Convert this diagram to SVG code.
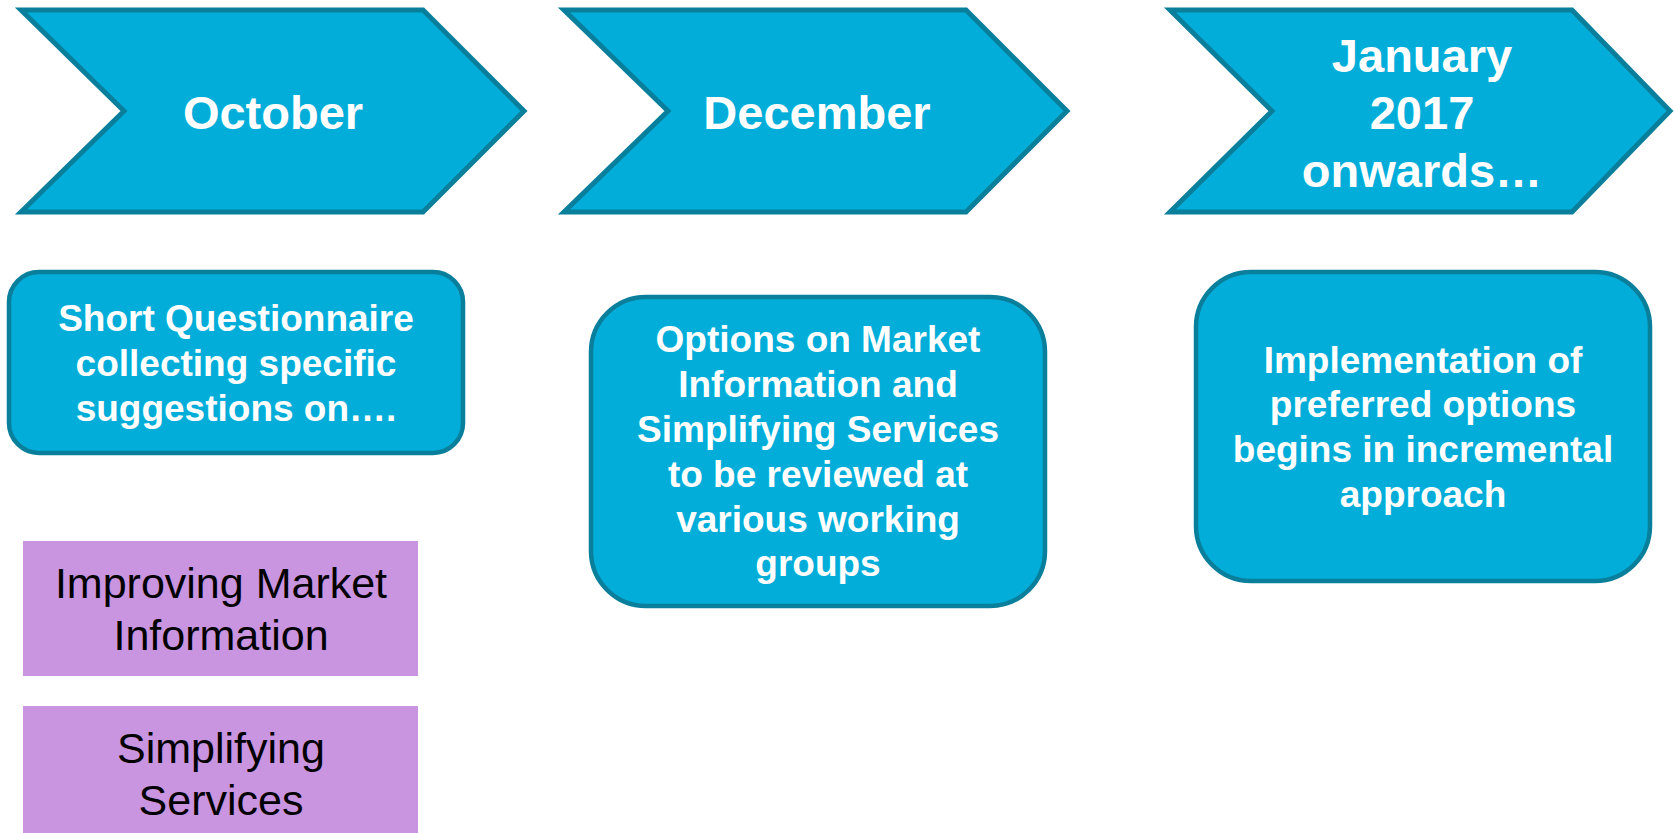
<svg xmlns="http://www.w3.org/2000/svg" width="1674" height="833" viewBox="0 0 1674 833">
<style>
.chev{fill:#02AED9;stroke:#0A7F9C;stroke-width:5;stroke-linejoin:miter}
.box{fill:#02AED9;stroke:#0A7F9C;stroke-width:4.5}
.pur{fill:#C994E0}
.t{font-family:"Liberation Sans",Arial,sans-serif;font-weight:bold;fill:#FFFFFF;text-anchor:middle}
.h{font-size:47px}
.b{font-size:37px}
.p{font-family:"Liberation Sans",Arial,sans-serif;font-size:43px;fill:#000000;text-anchor:middle}
</style>
<rect width="1674" height="833" fill="#FFFFFF"/>
<g id="chevron-october">
<polygon class="chev" points="21,10 423,10 524,111 423,212 21,212 124,111"/>
<text class="t h" x="273" y="129">October</text>
</g>
<g id="chevron-december">
<polygon class="chev" points="564,10 966,10 1067,111 966,212 564,212 668,111"/>
<text class="t h" x="817" y="129">December</text>
</g>
<g id="chevron-january">
<polygon class="chev" points="1170,10 1572,10 1670,111 1572,212 1170,212 1272,111"/>
<text class="t h" x="1422" y="72">January</text>
<text class="t h" x="1422" y="129">2017</text>
<text class="t h" x="1422" y="187">onwards…</text>
</g>
<g id="box-questionnaire">
<rect class="box" x="9" y="272" width="454" height="181" rx="30" ry="30"/>
<text class="t b" x="236" y="331">Short Questionnaire</text>
<text class="t b" x="236" y="376">collecting specific</text>
<text class="t b" x="236" y="421">suggestions on….</text>
</g>
<g id="box-options">
<rect class="box" x="591" y="297" width="454" height="309" rx="55" ry="55"/>
<text class="t b" x="818" y="352">Options on Market</text>
<text class="t b" x="818" y="397">Information and</text>
<text class="t b" x="818" y="442">Simplifying Services</text>
<text class="t b" x="818" y="487">to be reviewed at</text>
<text class="t b" x="818" y="532">various working</text>
<text class="t b" x="818" y="576">groups</text>
</g>
<g id="box-implementation">
<rect class="box" x="1196" y="272" width="454" height="309" rx="55" ry="55"/>
<text class="t b" x="1423" y="373">Implementation of</text>
<text class="t b" x="1423" y="417">preferred options</text>
<text class="t b" x="1423" y="462">begins in incremental</text>
<text class="t b" x="1423" y="507">approach</text>
</g>
<g id="box-market-information">
<rect class="pur" x="23" y="541" width="395" height="135"/>
<text class="p" x="221" y="598">Improving Market</text>
<text class="p" x="221" y="650">Information</text>
</g>
<g id="box-simplifying-services">
<rect class="pur" x="23" y="706" width="395" height="127"/>
<text class="p" x="221" y="763">Simplifying</text>
<text class="p" x="221" y="815">Services</text>
</g>
<g id="connectors"></g>
</svg>
